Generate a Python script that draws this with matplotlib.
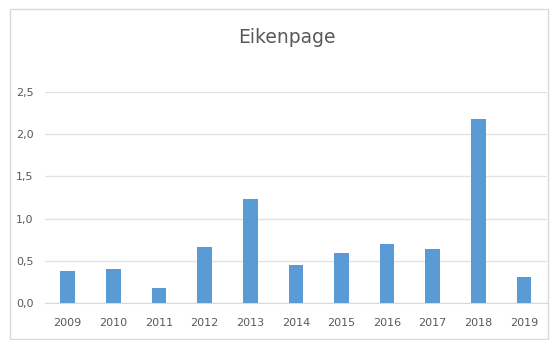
import matplotlib.pyplot as plt
from matplotlib.patches import Rectangle
from matplotlib.ticker import FuncFormatter

years = ["2009", "2010", "2011", "2012", "2013", "2014",
         "2015", "2016", "2017", "2018", "2019"]
values = [0.38, 0.40, 0.18, 0.66, 1.23, 0.45, 0.59, 0.70, 0.64, 2.18, 0.31]
y_ticks = [0.0, 0.5, 1.0, 1.5, 2.0, 2.5]

BAR_COLOR = "#5B9BD5"
TEXT_COLOR = "#595959"
GRID_COLOR = "#E3E3E3"

fig = plt.figure(figsize=(5.54, 3.4), dpi=100)
fig.patches.append(Rectangle((10 / 554, 0.003), 1 - 16 / 554, 1 - 10 / 340,
                             transform=fig.transFigure, fill=False,
                             edgecolor="#D9D9D9", linewidth=1.0))

ax = fig.add_axes([0.081, 0.109, 0.906, 0.62])
x = range(len(years))
ax.bar(x, values, width=0.32, color=BAR_COLOR, zorder=3)

ax.set_xlim(-0.5, len(years) - 0.5)
ax.set_ylim(0, 2.5)
ax.set_yticks(y_ticks)
ax.yaxis.set_major_formatter(FuncFormatter(lambda v, _: f"{v:.1f}".replace(".", ",")))
ax.set_xticks(list(x))
ax.set_xticklabels(years)
ax.grid(axis="y", color=GRID_COLOR, linewidth=1.0, zorder=0)
ax.tick_params(axis="both", length=0, labelsize=8, labelcolor=TEXT_COLOR)
ax.tick_params(axis="x", pad=11)
ax.tick_params(axis="y", pad=8)
for spine in ["top", "right", "left"]:
    ax.spines[spine].set_visible(False)
ax.spines["bottom"].set_color("#D9D9D9")

fig.text(0.518, 0.89, "Eikenpage", ha="center", va="center",
         fontsize=13.5, color=TEXT_COLOR)

fig.savefig("out.png", dpi=100)
